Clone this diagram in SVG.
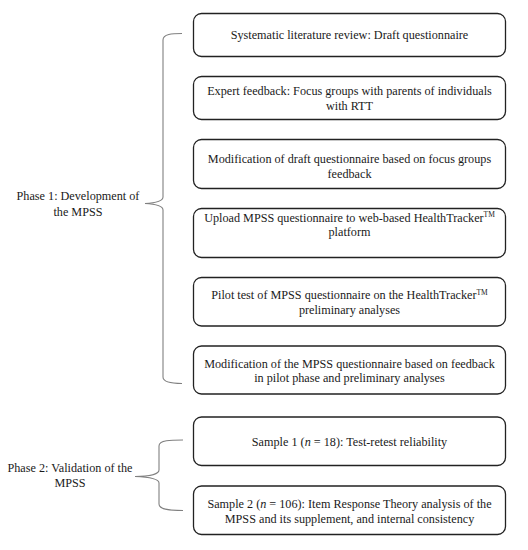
<svg xmlns="http://www.w3.org/2000/svg" width="528" height="550" viewBox="0 0 528 550" font-family="'Liberation Serif', 'DejaVu Serif', serif">
<style>
.box{fill:#fff;stroke:#222;stroke-width:1.3}
.t{font-family:'Liberation Serif','DejaVu Serif',serif;font-size:12.2px;fill:#1a1a1a;text-anchor:middle}
.brace{fill:none;stroke:#808080;stroke-width:1.1}
.sup{font-size:7.5px}
</style>
<rect width="528" height="550" fill="#fff"/>
<g id="connectors">
<path class="brace" d="M182,33.5 C172,33.5 163,34 163,40 L163,197 C163,201 155,203 145,203.5 C155,204 163,206 163,210 L163,377 C163,382 172,383.5 182,383.5"/>
<path class="brace" d="M183,440 C171,440 159,440 159,446 L159,470 C159,474 150,476.5 135,476.5 C150,477 159,479 159,483 L159,504 C159,510 171,510.5 183,510.5"/>
</g>
<g id="phase1">
<text class="t" x="78" y="200">Phase 1: Development of</text>
<text class="t" x="78" y="216">the MPSS</text>
</g>
<g id="phase2">
<text class="t" x="70" y="471.5">Phase 2: Validation of the</text>
<text class="t" x="70" y="486.5">MPSS</text>
</g>
<g id="n1">
<rect class="box" x="193.5" y="13.5" width="312" height="43" rx="8"/>
<text class="t" x="349.5" y="39">Systematic literature review: Draft questionnaire</text>
</g>
<g id="n2">
<rect class="box" x="193.5" y="76.5" width="312" height="43" rx="8"/>
<text class="t" x="349.5" y="95">Expert feedback: Focus groups with parents of individuals</text>
<text class="t" x="349.5" y="110">with RTT</text>
</g>
<g id="n3">
<rect class="box" x="193.5" y="139.5" width="312" height="49" rx="8"/>
<text class="t" x="349.5" y="162.5">Modification of draft questionnaire based on focus groups</text>
<text class="t" x="349.5" y="177.5">feedback</text>
</g>
<g id="n4">
<rect class="box" x="193.5" y="208.5" width="312" height="49" rx="8"/>
<text class="t" x="349.5" y="221.5">Upload MPSS questionnaire to web-based HealthTracker<tspan class="sup" dy="-4.5">TM</tspan></text>
<text class="t" x="349.5" y="236">platform</text>
</g>
<g id="n5">
<rect class="box" x="193.5" y="277.5" width="312" height="48.5" rx="8"/>
<text class="t" x="349.5" y="299">Pilot test of MPSS questionnaire on the HealthTracker<tspan class="sup" dy="-4.5">TM</tspan></text>
<text class="t" x="349.5" y="314">preliminary analyses</text>
</g>
<g id="n6">
<rect class="box" x="193.5" y="346" width="312" height="48" rx="8"/>
<text class="t" x="349.5" y="367.5">Modification of the MPSS questionnaire based on feedback</text>
<text class="t" x="349.5" y="381.5">in pilot phase and preliminary analyses</text>
</g>
<g id="n7">
<rect class="box" x="193.5" y="417" width="312" height="48.5" rx="8"/>
<text class="t" x="349.5" y="446">Sample 1 (<tspan font-style="italic">n</tspan> = 18): Test-retest reliability</text>
</g>
<g id="n8">
<rect class="box" x="193.5" y="486" width="312" height="48.5" rx="8"/>
<text class="t" x="349.5" y="507.5">Sample 2 (<tspan font-style="italic">n</tspan> = 106): Item Response Theory analysis of the</text>
<text class="t" x="349.5" y="522.5">MPSS and its supplement, and internal consistency</text>
</g>
</svg>
